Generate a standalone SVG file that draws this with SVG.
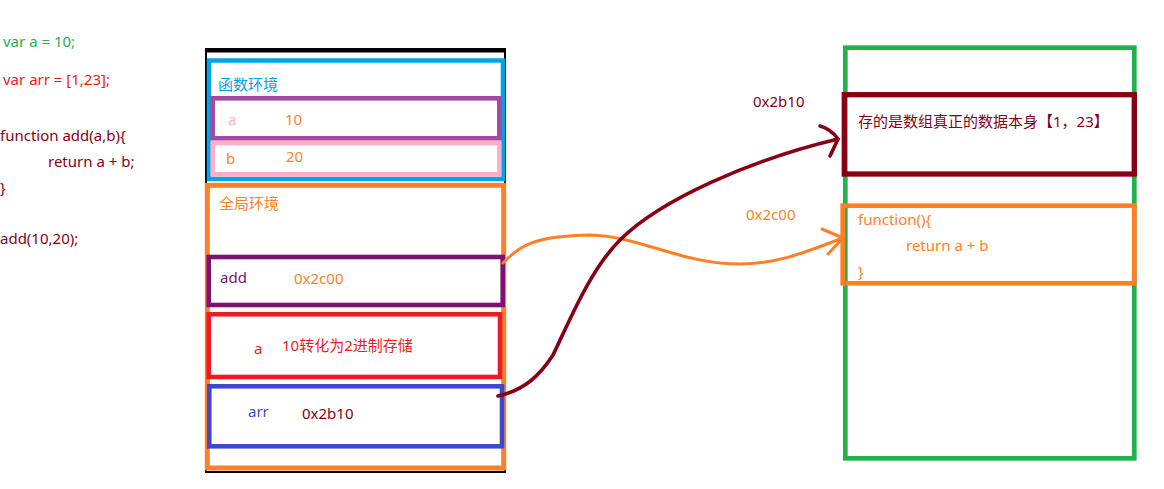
<svg xmlns="http://www.w3.org/2000/svg" width="1164" height="489" viewBox="0 0 1164 489">
  <style>
    text { font-family: "Noto Sans", "Noto Sans CJK SC", sans-serif; font-size: 15px; }
    .box { fill: none; stroke-linejoin: miter; }
    .c-green { fill: #22B14C; }
    .c-red { fill: #ED1C24; }
    .c-dred { fill: #880015; }
    .c-orange { fill: #FF7F27; }
    .c-blue { fill: #00A2E8; }
    .c-pink { fill: #FFAEC9; }
    .c-purple { fill: #7F1170; }
    .c-indigo { fill: #3F48CC; }
    .wire { fill: none; stroke-linecap: round; stroke-linejoin: round; }
  </style>

  <rect width="1164" height="489" fill="#ffffff"/>

  <!-- source code -->
  <g id="code">
    <text x="3" y="47" class="c-green">var a = 10;</text>
    <text x="3" y="85" class="c-red">var arr = [1,23];</text>
    <text x="0" y="141" class="c-dred">function add(a,b){</text>
    <text x="48" y="167" class="c-dred">return a + b;</text>
    <text x="0" y="193" class="c-dred">}</text>
    <text x="0" y="244" class="c-dred">add(10,20);</text>
  </g>

  <!-- stack frame outline -->
  <g id="stack">
    <rect class="box" x="206" y="50" width="299" height="422" stroke="#000000" stroke-width="2"/>
    <line x1="205" y1="50.3" x2="506" y2="50.3" stroke="#000000" stroke-width="4.6"/>
  </g>

  <!-- function environment -->
  <g id="fn-env">
    <rect class="box" x="209" y="60.5" width="294" height="118.5" stroke="#00A2E8" stroke-width="4.5"/>
    <text x="218" y="90" class="c-blue">函数环境</text>
  </g>

  <g id="fn-a">
    <rect class="box" x="212.7" y="98.3" width="286.6" height="40" stroke="#A349A4" stroke-width="4.6"/>
    <text x="228" y="125" class="c-pink">a</text>
    <text x="285" y="125" class="c-orange">10</text>
  </g>

  <g id="fn-b">
    <rect class="box" x="212.7" y="143" width="286.6" height="31.3" stroke="#FFAEC9" stroke-width="4.6"/>
    <text x="226" y="164" class="c-orange">b</text>
    <text x="286" y="162" class="c-orange">20</text>
  </g>

  <!-- global environment -->
  <g id="global-env">
    <rect class="box" x="207.3" y="185.3" width="296.4" height="282.7" stroke="#FF7F27" stroke-width="5"/>
    <text x="219" y="209" class="c-orange">全局环境</text>
  </g>

  <g id="g-add">
    <rect class="box" x="208.7" y="257" width="294" height="48" stroke="#7F1170" stroke-width="4.6"/>
    <text x="220" y="283" class="c-purple">add</text>
    <text x="294" y="283.5" class="c-orange">0x2c00</text>
  </g>

  <g id="g-a">
    <rect class="box" x="208.7" y="314.3" width="291.3" height="62.7" stroke="#ED1C24" stroke-width="4.6"/>
    <text x="254" y="354" class="c-red">a</text>
    <text x="282" y="351" class="c-red">10转化为2进制存储</text>
  </g>

  <g id="g-arr">
    <rect class="box" x="209.3" y="386.3" width="292.7" height="60" stroke="#3F48CC" stroke-width="4.6"/>
    <text x="248" y="417" class="c-indigo">arr</text>
    <text x="302" y="419" class="c-dred">0x2b10</text>
  </g>

  <!-- heap -->
  <g id="heap">
    <rect class="box" x="845.3" y="47.7" width="289" height="410.6" stroke="#22B14C" stroke-width="4.7"/>
  </g>

  <g id="heap-array">
    <rect class="box" x="844.3" y="94.7" width="290" height="79.3" stroke="#880015" stroke-width="5.3"/>
    <text x="858" y="127" class="c-dred">存的是数组真正的数据本身【1，23】</text>
  </g>

  <g id="heap-function">
    <rect class="box" x="842.7" y="205.7" width="291.6" height="77.6" stroke="#FF7F27" stroke-width="4.7"/>
    <text x="858" y="225" class="c-orange">function(){</text>
    <text x="906" y="251" class="c-orange">return a + b</text>
    <text x="858" y="277" class="c-orange">}</text>
  </g>

  <!-- references from stack to heap -->
  <g id="connectors">
    <path class="wire" d="M503,263 C520,245 535,236 590,235 C640,236 680,264 740,264 C780,264 810,250 843,238" stroke="#FF7F27" stroke-width="3"/>
    <path class="wire" d="M822,229 L843,238 L828,254" stroke="#FF7F27" stroke-width="3"/>
    <path class="wire" d="M498,396 C525,390 540,375 553,355 C570,320 590,270 620,240 C660,200 750,160 838,139" stroke="#880015" stroke-width="3.6"/>
    <path class="wire" d="M820,126 Q831,129 838,139 L830,156" stroke="#880015" stroke-width="3.6"/>
    <text x="753" y="107" class="c-dred">0x2b10</text>
    <text x="746" y="220" class="c-orange">0x2c00</text>
  </g>
</svg>
